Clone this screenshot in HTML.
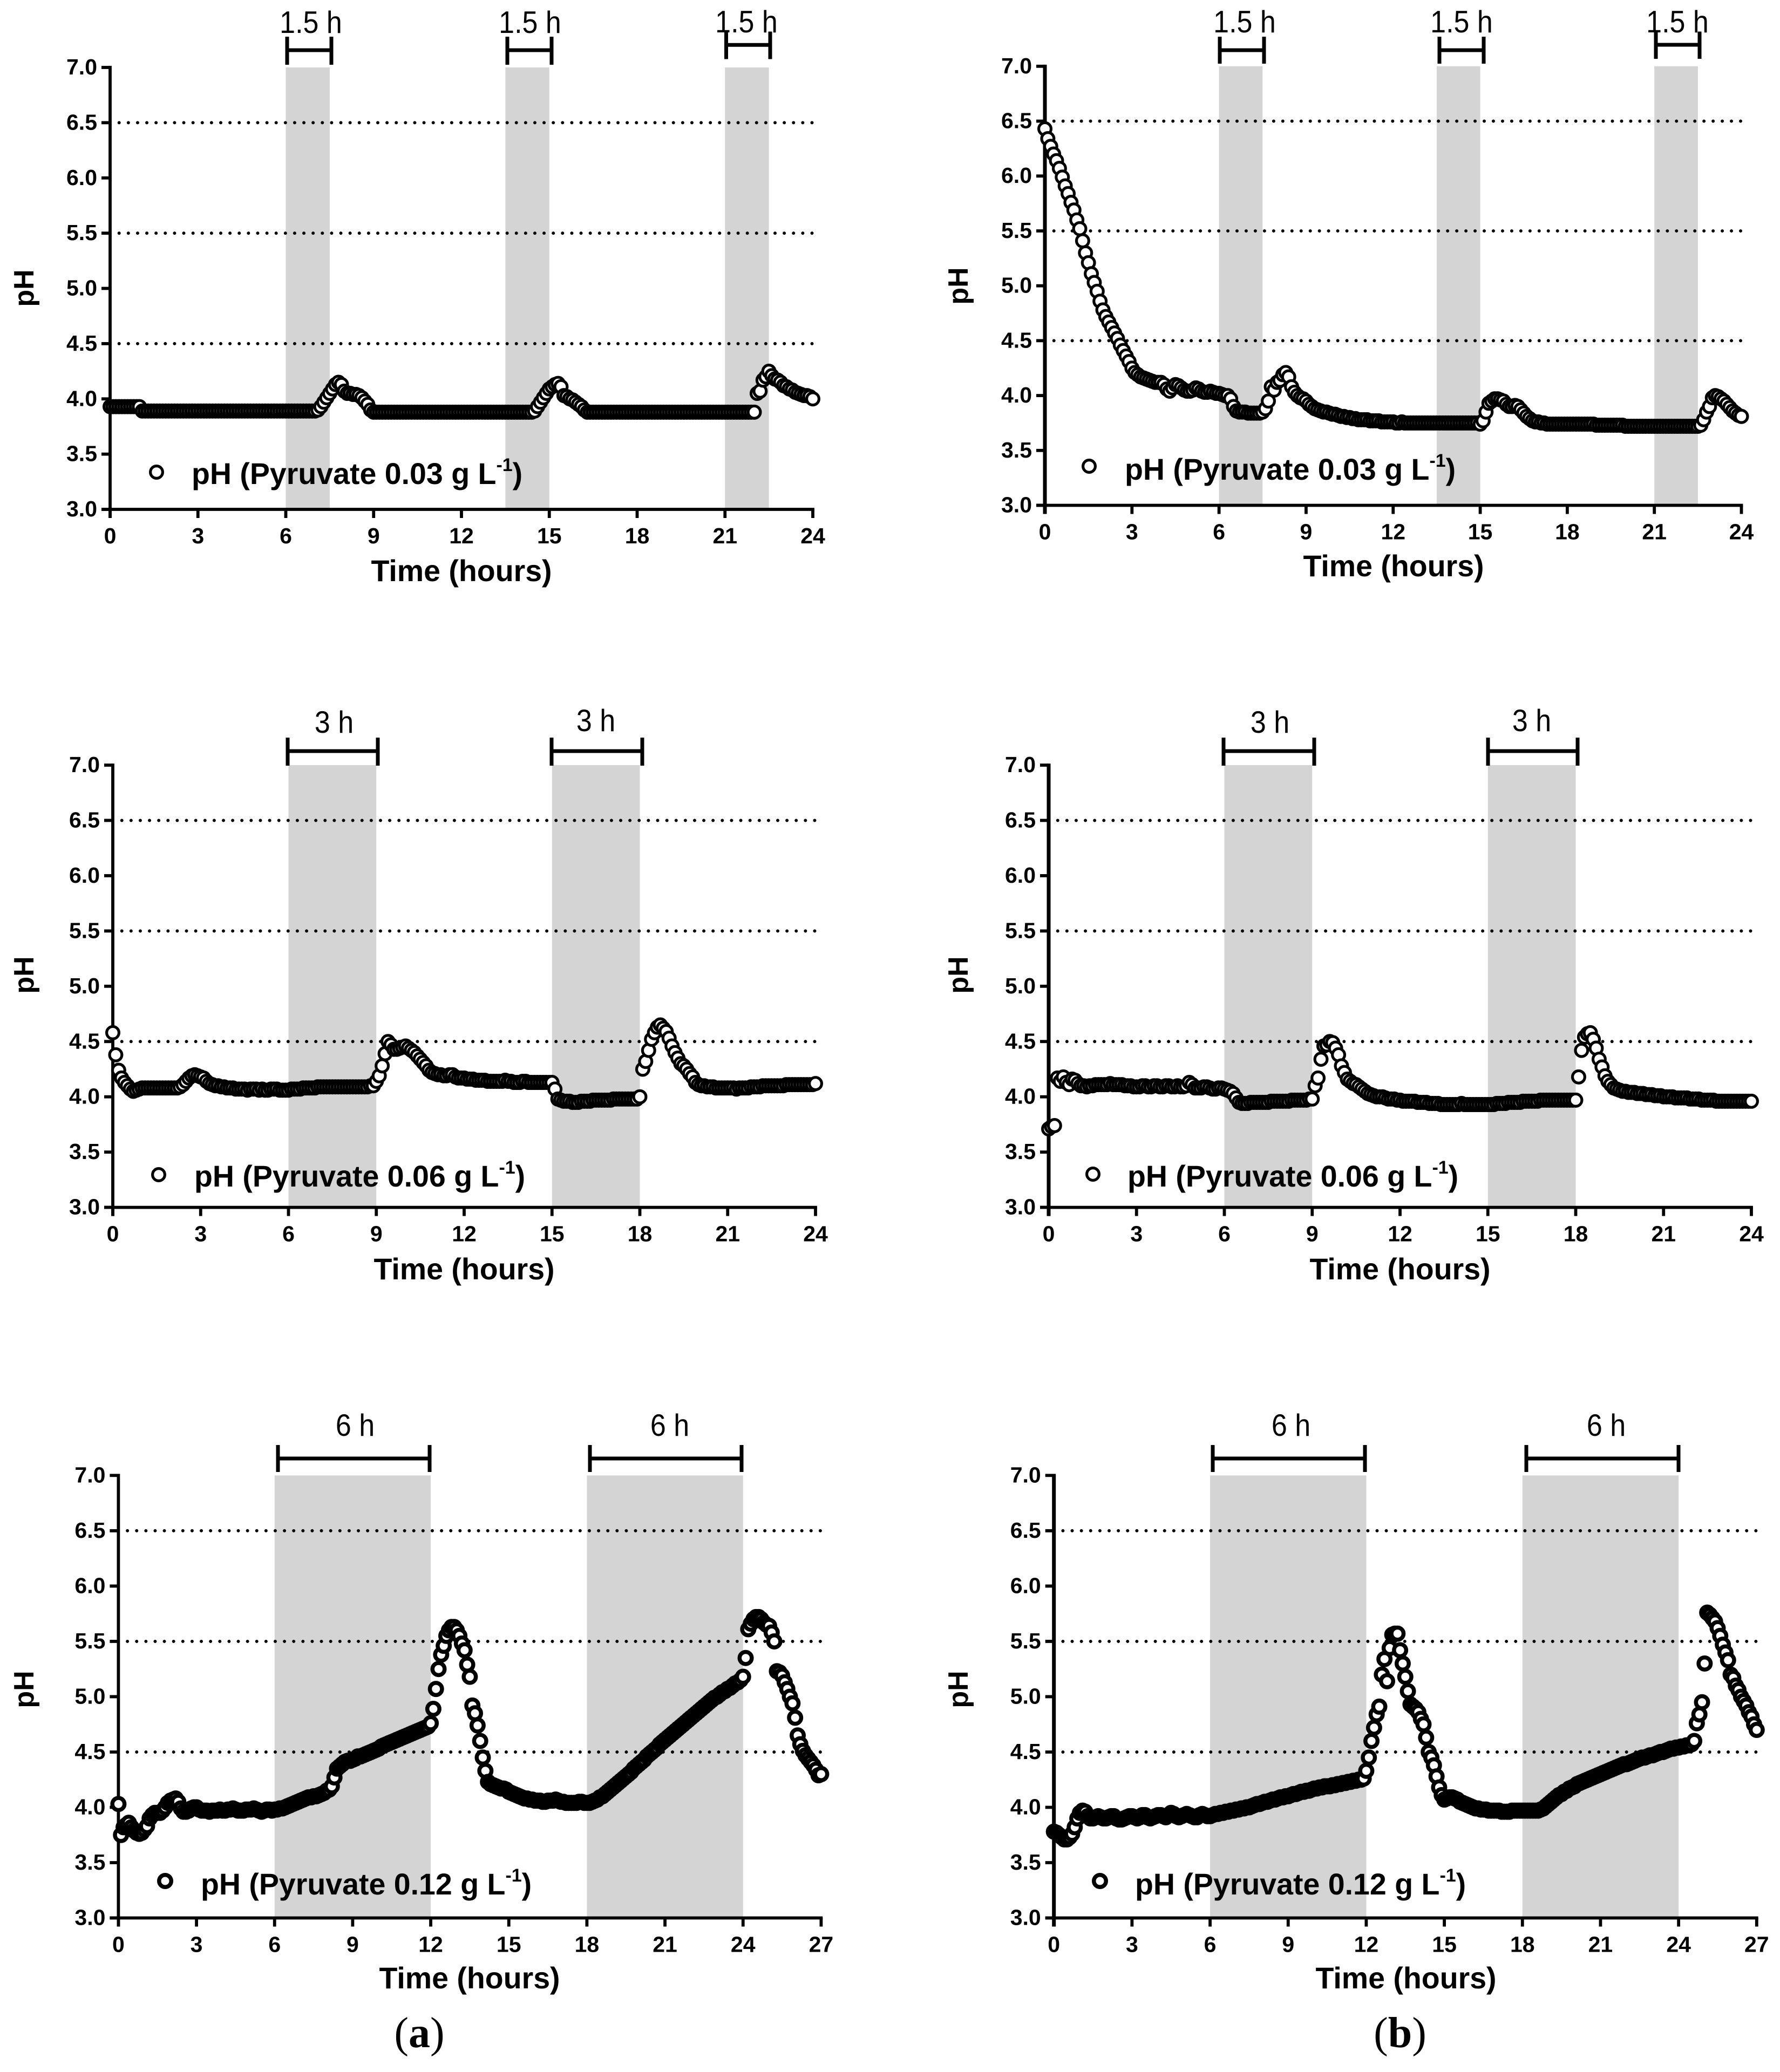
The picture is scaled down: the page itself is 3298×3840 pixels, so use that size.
<!DOCTYPE html>
<html lang="en">
<head>
<meta charset="utf-8">
<title>pH profiles with pyruvate pulses</title>
<style>
html,body{margin:0;padding:0;background:#fff;}
svg{display:block;}
text{font-family:"Liberation Sans",sans-serif;fill:#000;}
.tick{font-weight:700;font-size:41px;}
.title{font-weight:700;font-size:55.5px;}
.legend{font-weight:700;font-size:55.5px;}
.sup{font-weight:700;font-size:34px;}
.note{font-size:52px;}
.caption{font-family:"Liberation Serif",serif;font-size:80px;}
</style>
</head>
<body>
<svg id="fig" xmlns="http://www.w3.org/2000/svg" width="3298" height="3840" viewBox="0 0 3298 3840">
<rect x="0" y="0" width="3298" height="3840" fill="#fff"/>
<text class="caption" x="777" y="3794" text-anchor="middle">(<tspan font-weight="700">a</tspan>)</text>
<text class="caption" x="2594" y="3794" text-anchor="middle">(<tspan font-weight="700">b</tspan>)</text>
</svg>
<script>
// Sampling interval of every series, in hours
const sampleStepHours = 0.1;

const yTickLabels = ['3.0','3.5','4.0','4.5','5.0','5.5','6.0','6.5','7.0'];
const dottedLevels = [4.5, 5.5, 6.5];
const xTicks24 = [0,3,6,9,12,15,18,21,24];
const xTicks27 = [0,3,6,9,12,15,18,21,24,27];

const bands15 = [[6,7.5],[13.5,15],[21,22.5]];
const bands3 = [[6,9],[15,18]];
const bands6 = [[6,12],[18,24]];

// pH readings, one row per hour (10 samples each)
const phA1 = [
3.93,3.93,3.93,3.93,3.93,3.93,3.93,3.93,3.93,3.93,
3.93,3.89,3.89,3.89,3.89,3.89,3.89,3.89,3.89,3.89,
3.89,3.89,3.89,3.89,3.89,3.89,3.89,3.89,3.89,3.89,
3.89,3.89,3.89,3.89,3.89,3.89,3.89,3.89,3.89,3.89,
3.89,3.89,3.89,3.89,3.89,3.89,3.89,3.89,3.89,3.89,
3.89,3.89,3.89,3.89,3.89,3.89,3.89,3.89,3.89,3.89,
3.89,3.89,3.89,3.89,3.89,3.89,3.89,3.89,3.89,3.89,
3.89,3.90,3.93,3.97,4.01,4.05,4.09,4.13,4.15,4.13,
4.07,4.05,4.05,4.04,4.04,4.03,4.01,3.98,3.95,3.90,
3.88,3.88,3.88,3.88,3.88,3.88,3.88,3.88,3.88,3.88,
3.88,3.88,3.88,3.88,3.88,3.88,3.88,3.88,3.88,3.88,
3.88,3.88,3.88,3.88,3.88,3.88,3.88,3.88,3.88,3.88,
3.88,3.88,3.88,3.88,3.88,3.88,3.88,3.88,3.88,3.88,
3.88,3.88,3.88,3.88,3.88,3.88,3.88,3.88,3.88,3.88,
3.88,3.88,3.88,3.88,3.88,3.89,3.93,3.97,4.01,4.05,
4.09,4.11,4.13,4.14,4.11,4.03,4.02,4.00,3.99,3.97,
3.95,3.93,3.90,3.88,3.88,3.88,3.88,3.88,3.88,3.88,
3.88,3.88,3.88,3.88,3.88,3.88,3.88,3.88,3.88,3.88,
3.88,3.88,3.88,3.88,3.88,3.88,3.88,3.88,3.88,3.88,
3.88,3.88,3.88,3.88,3.88,3.88,3.88,3.88,3.88,3.88,
3.88,3.88,3.88,3.88,3.88,3.88,3.88,3.88,3.88,3.88,
3.88,3.88,3.88,3.88,3.88,3.88,3.88,3.88,3.88,3.88,
3.88,4.05,4.07,4.17,4.20,4.25,4.21,4.18,4.17,4.15,
4.12,4.11,4.09,4.08,4.06,4.05,4.04,4.03,4.03,4.02,
4.00];

const phB1 = [
6.43,6.34,6.27,6.20,6.14,6.07,5.99,5.91,5.84,5.76,
5.69,5.60,5.52,5.41,5.30,5.21,5.11,5.03,4.95,4.86,
4.78,4.72,4.67,4.62,4.57,4.52,4.46,4.41,4.36,4.31,
4.25,4.21,4.19,4.17,4.16,4.15,4.14,4.13,4.12,4.12,
4.12,4.10,4.06,4.04,4.07,4.10,4.09,4.07,4.05,4.04,
4.04,4.05,4.07,4.06,4.04,4.03,4.03,4.04,4.03,4.02,
4.02,4.01,4.00,4.00,3.97,3.90,3.86,3.85,3.85,3.85,
3.84,3.84,3.84,3.84,3.84,3.85,3.88,3.95,4.08,4.05,
4.12,4.14,4.19,4.21,4.17,4.08,4.03,4.00,3.98,3.97,
3.95,3.92,3.90,3.88,3.87,3.86,3.85,3.85,3.84,3.83,
3.83,3.82,3.81,3.81,3.80,3.80,3.79,3.79,3.78,3.78,
3.78,3.78,3.77,3.77,3.77,3.77,3.76,3.76,3.76,3.76,
3.76,3.75,3.75,3.76,3.75,3.75,3.75,3.75,3.75,3.75,
3.75,3.75,3.75,3.75,3.75,3.75,3.75,3.75,3.75,3.75,
3.75,3.75,3.75,3.75,3.75,3.75,3.75,3.75,3.75,3.75,
3.74,3.77,3.85,3.93,3.95,3.97,3.97,3.96,3.95,3.92,
3.90,3.90,3.91,3.90,3.87,3.84,3.81,3.79,3.77,3.76,
3.76,3.75,3.75,3.74,3.74,3.74,3.74,3.74,3.74,3.74,
3.74,3.74,3.74,3.74,3.74,3.74,3.74,3.74,3.74,3.74,
3.73,3.73,3.73,3.73,3.73,3.73,3.73,3.73,3.73,3.73,
3.72,3.72,3.72,3.72,3.72,3.72,3.72,3.72,3.72,3.72,
3.72,3.72,3.72,3.72,3.72,3.72,3.72,3.72,3.72,3.72,
3.72,3.72,3.72,3.72,3.72,3.72,3.73,3.78,3.85,3.90,
3.98,4.00,3.99,3.97,3.95,3.92,3.89,3.86,3.84,3.82,
3.81];

const phA2 = [
4.58,4.38,4.24,4.17,4.13,4.10,4.07,4.05,4.06,4.07,
4.08,4.08,4.08,4.08,4.08,4.08,4.08,4.08,4.08,4.08,
4.08,4.08,4.08,4.09,4.11,4.14,4.17,4.19,4.20,4.19,
4.18,4.17,4.14,4.12,4.11,4.10,4.10,4.09,4.09,4.08,
4.08,4.08,4.07,4.07,4.07,4.07,4.06,4.07,4.07,4.07,
4.06,4.07,4.06,4.06,4.07,4.07,4.07,4.06,4.06,4.06,
4.06,4.07,4.07,4.07,4.07,4.08,4.08,4.08,4.08,4.08,
4.09,4.09,4.09,4.09,4.09,4.09,4.09,4.09,4.09,4.09,
4.09,4.09,4.09,4.09,4.09,4.09,4.09,4.09,4.10,4.10,
4.14,4.19,4.28,4.39,4.50,4.47,4.43,4.43,4.44,4.45,
4.46,4.44,4.42,4.40,4.37,4.34,4.31,4.28,4.24,4.22,
4.21,4.20,4.20,4.19,4.19,4.20,4.20,4.18,4.17,4.17,
4.17,4.16,4.16,4.16,4.15,4.15,4.15,4.15,4.14,4.14,
4.14,4.14,4.14,4.14,4.15,4.14,4.14,4.13,4.13,4.13,
4.14,4.14,4.13,4.13,4.13,4.13,4.13,4.13,4.13,4.13,
4.13,4.07,3.98,3.97,3.96,3.96,3.96,3.95,3.95,3.95,
3.96,3.96,3.96,3.96,3.97,3.97,3.97,3.97,3.97,3.97,
3.97,3.98,3.98,3.98,3.98,3.98,3.98,3.98,3.98,3.98,
4.00,4.25,4.32,4.42,4.52,4.58,4.63,4.65,4.62,4.59,
4.53,4.46,4.40,4.35,4.30,4.28,4.25,4.21,4.18,4.13,
4.11,4.10,4.10,4.09,4.09,4.09,4.08,4.08,4.08,4.08,
4.08,4.08,4.08,4.07,4.08,4.08,4.08,4.08,4.09,4.09,
4.09,4.09,4.10,4.10,4.10,4.10,4.10,4.10,4.10,4.10,
4.11,4.11,4.11,4.11,4.11,4.11,4.11,4.11,4.11,4.11,
4.12];

const phB2 = [
3.71,3.73,3.74,4.17,4.14,4.18,4.13,4.11,4.16,4.15,
4.12,4.10,4.10,4.09,4.10,4.10,4.11,4.11,4.11,4.11,
4.11,4.12,4.11,4.11,4.11,4.11,4.10,4.10,4.10,4.09,
4.09,4.09,4.10,4.10,4.09,4.09,4.10,4.10,4.09,4.09,
4.10,4.10,4.09,4.09,4.10,4.09,4.09,4.10,4.13,4.11,
4.08,4.08,4.08,4.09,4.09,4.08,4.07,4.07,4.08,4.08,
4.07,4.06,4.05,4.03,3.99,3.95,3.94,3.94,3.94,3.95,
3.95,3.95,3.95,3.95,3.95,3.95,3.96,3.96,3.96,3.96,
3.96,3.96,3.96,3.97,3.97,3.97,3.97,3.97,3.97,3.98,
3.98,4.10,4.17,4.34,4.46,4.47,4.50,4.49,4.44,4.38,
4.28,4.22,4.16,4.14,4.12,4.11,4.09,4.07,4.05,4.03,
4.02,4.01,4.00,4.00,4.00,3.99,3.98,3.98,3.98,3.97,
3.97,3.96,3.96,3.96,3.96,3.96,3.95,3.95,3.95,3.95,
3.94,3.94,3.94,3.94,3.93,3.93,3.93,3.93,3.93,3.93,
3.93,3.94,3.93,3.93,3.93,3.93,3.93,3.93,3.93,3.93,
3.93,3.93,3.93,3.94,3.94,3.94,3.94,3.95,3.95,3.95,
3.95,3.95,3.96,3.96,3.96,3.96,3.96,3.96,3.97,3.97,
3.97,3.97,3.97,3.97,3.97,3.97,3.97,3.97,3.97,3.97,
3.97,4.18,4.42,4.54,4.57,4.58,4.52,4.44,4.34,4.27,
4.19,4.14,4.11,4.08,4.07,4.06,4.05,4.05,4.04,4.04,
4.04,4.03,4.03,4.03,4.02,4.02,4.02,4.01,4.01,4.01,
4.00,4.00,4.00,4.00,3.99,3.99,3.99,3.99,3.99,3.98,
3.98,3.98,3.98,3.97,3.97,3.97,3.97,3.97,3.96,3.96,
3.96,3.96,3.96,3.96,3.96,3.96,3.96,3.96,3.96,3.96,
3.96];

const phA3 = [
4.03,3.75,3.82,3.84,3.86,3.82,3.79,3.77,3.76,3.77,
3.80,3.83,3.90,3.93,3.95,3.95,3.95,3.97,4.00,4.04,
4.06,4.07,4.08,4.05,3.99,3.96,3.96,3.97,3.99,4.00,
4.00,3.98,3.97,3.97,3.97,3.96,3.97,3.97,3.97,3.98,
3.97,3.97,3.98,3.98,3.99,3.98,3.97,3.97,3.97,3.98,
3.98,3.98,3.99,3.98,3.97,3.96,3.97,3.98,3.98,3.97,
3.98,3.98,3.99,3.99,4.00,4.01,4.02,4.03,4.04,4.05,
4.06,4.07,4.08,4.09,4.09,4.10,4.10,4.11,4.12,4.13,
4.15,4.16,4.19,4.27,4.35,4.37,4.39,4.41,4.42,4.42,
4.43,4.44,4.46,4.46,4.47,4.48,4.49,4.50,4.51,4.52,
4.53,4.55,4.56,4.57,4.58,4.59,4.60,4.61,4.62,4.63,
4.64,4.65,4.66,4.67,4.68,4.69,4.70,4.71,4.72,4.73,
4.76,4.89,5.07,5.25,5.38,5.46,5.55,5.60,5.63,5.63,
5.60,5.55,5.48,5.42,5.29,5.18,4.92,4.85,4.74,4.60,
4.45,4.33,4.23,4.21,4.20,4.19,4.18,4.17,4.17,4.16,
4.14,4.13,4.12,4.11,4.10,4.09,4.08,4.08,4.07,4.07,
4.06,4.06,4.06,4.05,4.05,4.06,4.06,4.06,4.07,4.06,
4.05,4.05,4.04,4.04,4.04,4.04,4.04,4.05,4.05,4.04,
4.04,4.04,4.05,4.06,4.07,4.09,4.10,4.12,4.14,4.16,
4.18,4.20,4.22,4.24,4.26,4.28,4.30,4.32,4.35,4.37,
4.39,4.41,4.43,4.46,4.48,4.50,4.52,4.54,4.57,4.59,
4.61,4.63,4.65,4.67,4.69,4.71,4.73,4.75,4.77,4.79,
4.81,4.83,4.85,4.87,4.89,4.91,4.93,4.95,4.97,4.99,
5.00,5.02,5.04,5.05,5.07,5.08,5.10,5.12,5.13,5.15,
5.18,5.35,5.61,5.66,5.70,5.72,5.72,5.70,5.67,5.65,
5.64,5.58,5.50,5.23,5.22,5.19,5.13,5.07,5.00,4.94,
4.81,4.65,4.57,4.51,4.47,4.44,4.41,4.38,4.34,4.29,
4.30];

const phB3 = [
3.78,3.77,3.75,3.73,3.71,3.71,3.73,3.76,3.82,3.90,
3.95,3.97,3.96,3.92,3.90,3.90,3.91,3.92,3.91,3.90,
3.90,3.91,3.92,3.92,3.90,3.89,3.89,3.90,3.91,3.92,
3.92,3.91,3.90,3.91,3.93,3.93,3.91,3.90,3.91,3.92,
3.93,3.93,3.92,3.91,3.93,3.95,3.94,3.92,3.91,3.92,
3.93,3.94,3.93,3.92,3.91,3.91,3.93,3.94,3.93,3.92,
3.92,3.93,3.94,3.94,3.95,3.95,3.96,3.96,3.97,3.97,
3.98,3.98,3.99,3.99,4.00,4.00,4.01,4.02,4.03,4.03,
4.04,4.05,4.05,4.06,4.07,4.07,4.08,4.09,4.09,4.10,
4.10,4.11,4.12,4.12,4.13,4.14,4.14,4.15,4.15,4.16,
4.17,4.17,4.18,4.18,4.19,4.19,4.19,4.20,4.20,4.21,
4.21,4.22,4.22,4.23,4.23,4.24,4.24,4.25,4.25,4.26,
4.33,4.45,4.60,4.72,4.84,4.91,5.20,5.34,5.14,5.44,
5.56,5.57,5.57,5.42,5.30,5.18,5.05,4.93,4.91,4.89,
4.86,4.80,4.75,4.63,4.50,4.45,4.38,4.28,4.18,4.11,
4.07,4.08,4.09,4.09,4.08,4.07,4.05,4.04,4.03,4.02,
4.01,4.00,3.99,3.99,3.98,3.98,3.98,3.97,3.97,3.97,
3.97,3.97,3.96,3.96,3.96,3.96,3.97,3.97,3.97,3.97,
3.97,3.97,3.97,3.97,3.97,3.97,3.97,3.98,3.99,4.01,
4.03,4.05,4.07,4.09,4.11,4.12,4.14,4.15,4.17,4.18,
4.19,4.21,4.22,4.23,4.24,4.25,4.26,4.27,4.28,4.29,
4.30,4.31,4.32,4.33,4.34,4.35,4.36,4.37,4.38,4.39,
4.39,4.40,4.41,4.42,4.43,4.44,4.45,4.45,4.46,4.47,
4.47,4.48,4.49,4.50,4.50,4.51,4.52,4.53,4.53,4.54,
4.54,4.55,4.55,4.56,4.56,4.57,4.60,4.76,4.84,4.95,
5.30,5.76,5.74,5.71,5.68,5.62,5.55,5.47,5.40,5.33,
5.20,5.17,5.10,5.06,5.00,4.96,4.92,4.86,4.82,4.75,
4.70];

const panels = [
 {id:'a1', ph:phA1, xTicks:xTicks24, bands:bands15, conc:'0.03', note:'1.5 h',
  x0:204, x1:1506, y7:125, y3:944, titleX:855, titleY:1077, phY:534, phX:62,
  legX:290, legY:875, legTX:355, legTY:897, mw:5.2, outer:14,
  brackets:[[532,614,68,120,93,576,61],[940,1022,68,120,93,982,61],[1345.5,1427,58.5,109.5,83.3,1383,60]]},
 {id:'b1', ph:phB1, xTicks:xTicks24, bands:bands15, conc:'0.03', note:'1.5 h',
  x0:1936, x1:3226.5, y7:122.8, y3:936.5, titleX:2582, titleY:1068, phY:530, phX:1793,
  legX:2018, legY:864, legTX:2084, legTY:889, mw:5.2, outer:14,
  brackets:[[2260,2342,68,118,93,2306,60],[2667,2749,68,118,93,2708,60],[3068,3149,58.5,109,83,3108,60]]},
 {id:'a2', ph:phA2, xTicks:xTicks24, bands:bands3, conc:'0.06', note:'3 h',
  x0:209, x1:1511, y7:1418, y3:2237.6, titleX:860, titleY:2371, phY:1807, phX:62,
  legX:294, legY:2177, legTX:360, legTY:2199, mw:5.2, outer:14,
  brackets:[[533,700,1367,1419,1392,619,1358],[1022,1190,1367,1419,1392,1104,1355]]},
 {id:'b2', ph:phB2, xTicks:xTicks24, bands:bands3, conc:'0.06', note:'3 h',
  x0:1943, x1:3245, y7:1418, y3:2237.6, titleX:2594, titleY:2371, phY:1807, phX:1793,
  legX:2025, legY:2176, legTX:2089, legTY:2199, mw:5.2, outer:14,
  brackets:[[2267,2435,1367,1419,1392,2353,1358],[2757,2923,1367,1419,1392,2838,1355]]},
 {id:'a3', ph:phA3, xTicks:xTicks27, bands:bands6, conc:'0.12', note:'6 h',
  x0:219.4, x1:1521.4, y7:2734.4, y3:3554.5, titleX:870, titleY:3685, phY:3131, phX:62,
  legX:306, legY:3486, legTX:372, legTY:3511, mw:7.5, outer:15,
  brackets:[[515,796,2678,2728,2703,658,2661],[1093,1374,2678,2728,2703,1241,2661]]},
 {id:'b3', ph:phB3, xTicks:xTicks27, bands:bands6, conc:'0.12', note:'6 h',
  x0:1952.7, x1:3254.8, y7:2734.4, y3:3554.5, titleX:2605, titleY:3685, phY:3131, phX:1793,
  legX:2038, legY:3486, legTX:2103, legTY:3511, mw:7.5, outer:15,
  brackets:[[2247,2529,2678,2728,2703,2392,2661],[2828,3110,2678,2728,2703,2976,2661]]}
];

const NS = 'http://www.w3.org/2000/svg';
const fig = document.getElementById('fig');
function mk(tag, parent, attrs, txt){
  const el = document.createElementNS(NS, tag);
  for (const k in attrs) el.setAttribute(k, attrs[k]);
  if (txt !== undefined) el.textContent = txt;
  parent.appendChild(el);
  return el;
}
const AX = 5.8, BR = 7, INK = '#000';

panels.forEach(function(p){
  const xMax = p.xTicks[p.xTicks.length-1];
  const xs = function(h){ return p.x0 + (h/xMax)*(p.x1-p.x0); };
  const ys = function(v){ return p.y3 - ((v-3)/4)*(p.y3-p.y7); };
  const yAxW = p.id.charAt(0) === 'b' ? 7 : 5.8;

  const g = mk('g', fig, {});
  
  

  p.bands.forEach(function(b){
    const r = mk('rect', g, {x:xs(b[0]), y:ys(7), width:xs(b[1])-xs(b[0]), height:ys(3)-ys(7), fill:'#d4d4d4'});
    
    
  });

  const dotStart = p.x0 + 16.7;
  const dotGap = ((p.x1 - 1.5 - dotStart) / 75).toFixed(3);
  dottedLevels.forEach(function(v){
    const l = mk('line', g, {x1:dotStart, x2:p.x1, y1:ys(v), y2:ys(v), stroke:INK, 'stroke-width':6, 'stroke-linecap':'round', 'stroke-dasharray':'0 ' + dotGap});
    
    
  });

  const yAxis = mk('line', g, {x1:p.x0, x2:p.x0, y1:ys(7)-AX/2, y2:ys(3)+16, stroke:INK, 'stroke-width':yAxW});
  
  
  const xAxis = mk('line', g, {x1:p.x0-16, x2:xs(xMax)+AX/2, y1:ys(3), y2:ys(3), stroke:INK, 'stroke-width':AX});
  
  

  yTickLabels.forEach(function(lbl){
    const v = parseFloat(lbl);
    const t = mk('line', g, {x1:p.x0-16, x2:p.x0, y1:ys(v), y2:ys(v), stroke:INK, 'stroke-width':AX});
    
    
    const tx = mk('text', g, {class:'tick', x:p.x0-24, y:ys(v)+13, 'text-anchor':'end'}, lbl);
    
    
  });

  p.xTicks.forEach(function(h){
    const t = mk('line', g, {x1:xs(h), x2:xs(h), y1:ys(3), y2:ys(3)+16, stroke:INK, 'stroke-width':AX});
    
    
    const tx = mk('text', g, {class:'tick', x:xs(h), y:ys(3)+63, 'text-anchor':'middle'}, String(h));
    
    
  });

  const xt = mk('text', g, {class:'title', x:p.titleX, y:p.titleY, 'text-anchor':'middle'}, 'Time (hours)');
  
  
  const yt = mk('text', g, {class:'title', style:'font-size:52px', x:0, y:0, 'text-anchor':'middle', transform:'translate('+p.phX+','+p.phY+') rotate(-90)'}, 'pH');
  
  

  p.brackets.forEach(function(b){
    const br = mk('g', g, {stroke:INK, 'stroke-width':BR});
    
    
    mk('line', br, {x1:b[0], x2:b[0], y1:b[2], y2:b[3]});
    mk('line', br, {x1:b[1], x2:b[1], y1:b[2], y2:b[3]});
    mk('line', br, {x1:b[0], x2:b[1], y1:b[4], y2:b[4]});
    const n = mk('text', g, {class:'note', x:0, y:0, 'text-anchor':'middle', transform:'translate('+b[5]+','+b[6]+') scale(1,1.1)'}, p.note);
    
    
  });

  const sg = mk('g', g, {fill:'#fff', stroke:INK, 'stroke-width':p.mw});
  
  
  const r = p.outer - p.mw/2;
  p.ph.forEach(function(v, i){
    const c = mk('circle', sg, {cx:xs(i*sampleStepHours).toFixed(2), cy:ys(v).toFixed(2), r:r});
    
    
  });

  const lm = mk('circle', g, {cx:p.legX, cy:p.legY, r:r, fill:'#fff', stroke:INK, 'stroke-width':p.mw});
  
  
  const lt = mk('text', g, {class:'legend', x:p.legTX, y:p.legTY});
  
  
  lt.appendChild(document.createTextNode('pH (Pyruvate ' + p.conc + ' g L'));
  mk('tspan', lt, {class:'sup', dy:-24}, '-1');
  mk('tspan', lt, {dy:24}, ')');
});
</script>
</body>
</html>
